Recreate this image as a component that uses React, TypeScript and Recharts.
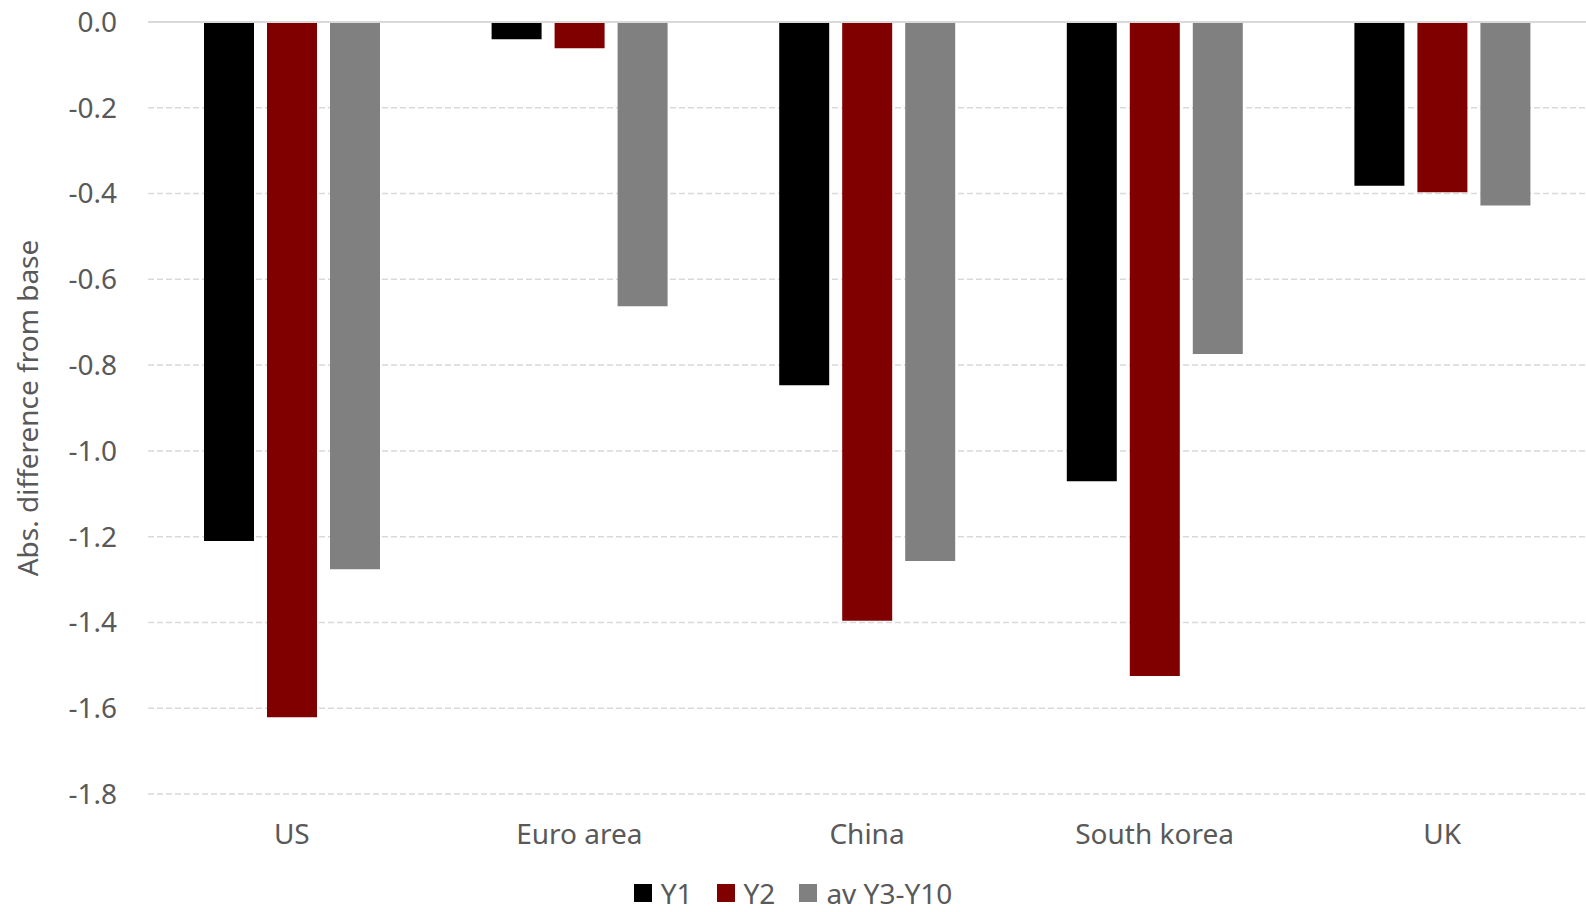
import React from "react";
import {
  BarChart,
  Bar,
  XAxis,
  YAxis,
  CartesianGrid,
  Legend,
  ReferenceLine,
  Label,
} from "recharts";

const countries = ["US", "Euro area", "China", "South korea", "UK"];
const y1Values = [-1.21, -0.04, -0.847, -1.071, -0.382];
const y2Values = [-1.621, -0.061, -1.396, -1.525, -0.397];
const y3AvgValues = [-1.276, -0.663, -1.257, -0.774, -0.428];
const yTicks = [0, -0.2, -0.4, -0.6, -0.8, -1.0, -1.2, -1.4, -1.6, -1.8];

const seriesInfo = [
  { key: "y1", name: "Y1", color: "#000000" },
  { key: "y2", name: "Y2", color: "#800000" },
  { key: "y3", name: "av Y3-Y10", color: "#808080" },
];

const FONT = "'Noto Sans', 'Open Sans', sans-serif";
const FONT_SIZE = 28;
const TEXT_COLOR = "#595959";
const GRID_COLOR = "#d9d9d9";

const chartData = countries.map((name, i) => ({
  name,
  y1: y1Values[i],
  y2: y2Values[i],
  y3: y3AvgValues[i],
}));

const LegendBox = () => (
  <div
    style={{
      display: "flex",
      justifyContent: "center",
      alignItems: "center",
      height: 40,
      paddingTop: 6,
      paddingBottom: 4,
      boxSizing: "border-box",
      fontFamily: FONT,
      fontSize: FONT_SIZE,
      color: TEXT_COLOR,
    }}
  >
    {seriesInfo.map((s, i) => (
      <div
        key={s.key}
        style={{
          display: "flex",
          alignItems: "center",
          marginRight: i < seriesInfo.length - 1 ? 24 : 0,
        }}
      >
        <span
          style={{
            display: "inline-block",
            flexShrink: 0,
            width: 18,
            height: 18,
            background: s.color,
            marginRight: 9,
          }}
        />
        <span style={{ lineHeight: "24px" }}>{s.name}</span>
      </div>
    ))}
  </div>
);

const AxisTitle = ({ viewBox }: any) => {
  const cy = viewBox.y + viewBox.height / 2;
  return (
    <text
      x={27}
      y={cy}
      transform={`rotate(-90, 27, ${cy})`}
      textAnchor="middle"
      dominantBaseline="central"
      fill={TEXT_COLOR}
      fontSize={FONT_SIZE}
      fontFamily={FONT}
    >
      Abs. difference from base
    </text>
  );
};

export default function App() {
  return (
    <div style={{ width: 1586, height: 912 }}>
      <style>{`body { margin: 0; }`}</style>
      <BarChart
        width={1586}
        height={912}
        data={chartData}
        margin={{ top: 22, right: 0, left: 0, bottom: 0 }}
        barSize={50}
        barGap={13}
      >
        <CartesianGrid
          vertical={false}
          stroke={GRID_COLOR}
          strokeDasharray="6 3"
          strokeWidth={1.5}
        />
        <XAxis
          dataKey="name"
          axisLine={false}
          tickLine={false}
          height={78}
          tickMargin={24}
          tick={{ fill: TEXT_COLOR, fontSize: FONT_SIZE, fontFamily: FONT }}
        />
        <YAxis
          type="number"
          domain={[-1.8, 0]}
          ticks={yTicks}
          interval={0}
          width={148}
          axisLine={false}
          tickLine={false}
          tickMargin={25}
          tickFormatter={(v: number) => v.toFixed(1)}
          tick={{ fill: TEXT_COLOR, fontSize: FONT_SIZE, fontFamily: FONT }}
        >
          <Label content={AxisTitle} />
        </YAxis>
        <ReferenceLine y={0} stroke={GRID_COLOR} strokeWidth={2} />
        <Legend verticalAlign="bottom" content={LegendBox} />
        {seriesInfo.map((s) => (
          <Bar
            key={s.key}
            dataKey={s.key}
            name={s.name}
            fill={s.color}
            isAnimationActive={false}
          />
        ))}
      </BarChart>
    </div>
  );
}
